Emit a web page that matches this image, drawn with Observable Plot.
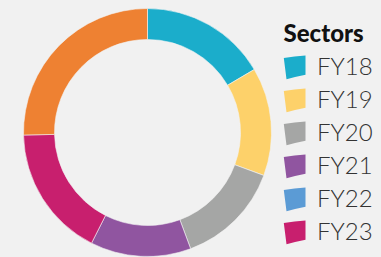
<!DOCTYPE html>
<html><head><meta charset="utf-8">
<script src="https://cdn.jsdelivr.net/npm/d3@7"></script>
<script src="https://cdn.jsdelivr.net/npm/@observablehq/plot@0.6"></script>
<style>
html,body{margin:0;padding:0;background:#f1f1f1;overflow:hidden;}
#chart svg{display:block;overflow:hidden;}
</style></head><body><div id="chart"></div>
<script>
// Data
const sectors = ["FY18","FY19","FY20","FY21","FY22","FY23","FY24"];
const shares  = [16.5, 14.1, 13.7, 13.1, 0, 17.2, 25.3];
const colors  = ["#1badcb","#fdd16a","#a5a6a5","#9055a0","#5b9bd5","#c81f6e","#ee8132"];
const legendTitle = "Sectors";
const legendShown = ["FY18","FY19","FY20","FY21","FY22","FY23"];

const data = sectors.map((s, i) => ({sector: s, value: shares[i]}));
const W = 381, H = 257;
const center = [147.5, 132.5], rOuter = 124, rInner = 93;

function donut(index, scales) {
  const sx = (scales && scales.x) || (v => v);
  const col = (scales && scales.color) || d3.scaleOrdinal(sectors, colors);
  const g = d3.create("svg:g")
    .attr("transform", `translate(${sx(center[0])},${center[1]})`);
  const arcs = d3.pie().sort(null).value(d => d.value)(data).filter(a => a.data.value > 0);
  const arc = d3.arc().innerRadius(rInner).outerRadius(rOuter);
  g.selectAll("path").data(arcs).join("path")
    .attr("d", arc)
    .attr("fill", d => col(d.data.sector))
    .attr("stroke", "#f4f4f4")
    .attr("stroke-width", 0.6);
  return g.node();
}

const swatch = {
  draw(ctx) {
    ctx.moveTo(-10.7, -9.5);
    ctx.quadraticCurveTo(0, -11.5, 11, -12);
    ctx.lineTo(11, 7.2);
    ctx.quadraticCurveTo(1.5, 9, -8, 11.8);
    ctx.closePath();
  }
};

const chart = Plot.plot({
  width: W, height: H,
  margin: 0,
  style: {background: "transparent", overflow: "hidden"},
  x: {type: "linear", domain: [0, W], range: [0, W], axis: null},
  y: {type: "point", domain: [legendTitle, ...sectors], range: [33.3, 266.7], padding: 0, axis: null},
  color: {domain: sectors, range: colors},
  marks: [
    donut,
    Plot.text([legendTitle], {x: () => 283, y: d => d, text: d => d, textAnchor: "start",
      fontSize: 24, fontWeight: 900, fontFamily: "Lato", fill: "#111"}),
    Plot.dot(legendShown, {x: () => 294, y: d => d, fill: d => d, symbol: swatch, r: 10}),
    Plot.text(legendShown, {x: () => 316.5, y: d => d, text: d => d, textAnchor: "start",
      fontSize: 24, fontWeight: 300, fontFamily: "Lato", fill: "#333"})
  ]
});
document.getElementById("chart").appendChild(chart);
</script>
</body></html>
